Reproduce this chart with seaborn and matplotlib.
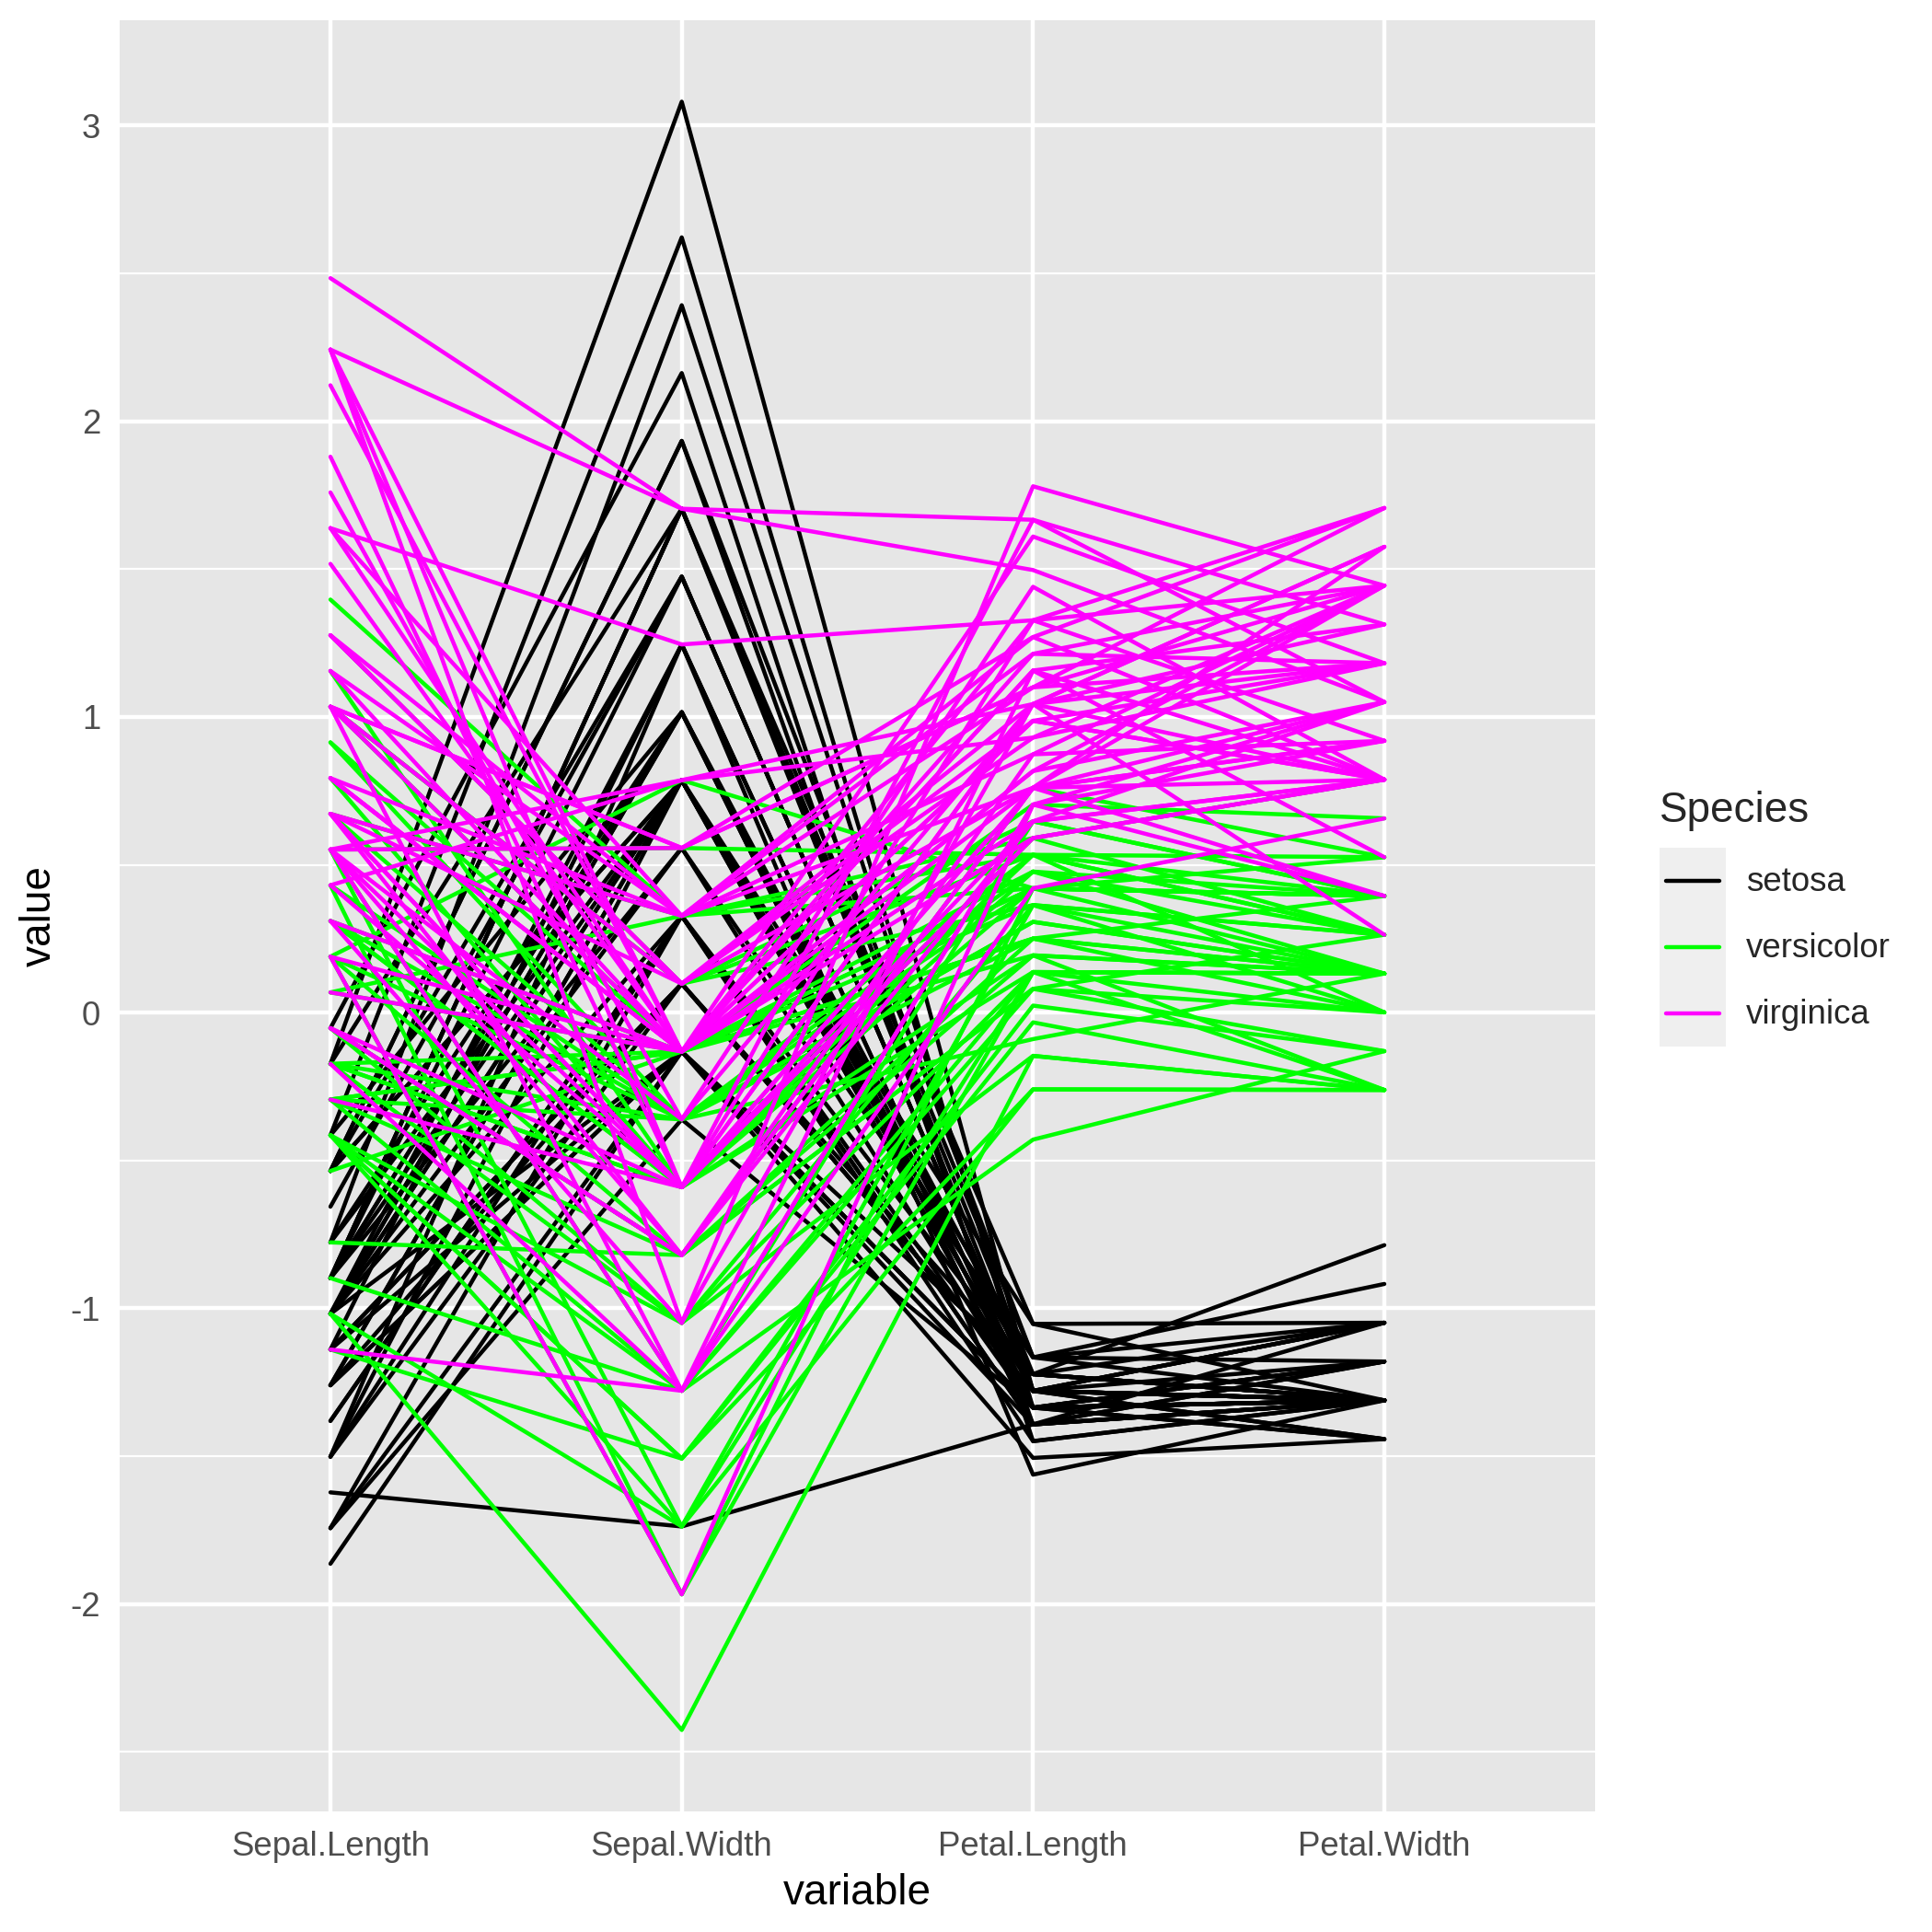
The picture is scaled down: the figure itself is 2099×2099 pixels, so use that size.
import pandas as pd
import seaborn as sns
import matplotlib.pyplot as plt
from matplotlib.legend_handler import HandlerBase
from matplotlib.lines import Line2D
from matplotlib.patches import Rectangle
from matplotlib.ticker import MultipleLocator

# iris measurements (rows 1-150), drawn standardised per variable
sepal_length = [
    5.1, 4.9, 4.7, 4.6, 5.0, 5.4, 4.6, 5.0, 4.4, 4.9,
    5.4, 4.8, 4.8, 4.3, 5.8, 5.7, 5.4, 5.1, 5.7, 5.1,
    5.4, 5.1, 4.6, 5.1, 4.8, 5.0, 5.0, 5.2, 5.2, 4.7,
    4.8, 5.4, 5.2, 5.5, 4.9, 5.0, 5.5, 4.9, 4.4, 5.1,
    5.0, 4.5, 4.4, 5.0, 5.1, 4.8, 5.1, 4.6, 5.3, 5.0,
    7.0, 6.4, 6.9, 5.5, 6.5, 5.7, 6.3, 4.9, 6.6, 5.2,
    5.0, 5.9, 6.0, 6.1, 5.6, 6.7, 5.6, 5.8, 6.2, 5.6,
    5.9, 6.1, 6.3, 6.1, 6.4, 6.6, 6.8, 6.7, 6.0, 5.7,
    5.5, 5.5, 5.8, 6.0, 5.4, 6.0, 6.7, 6.3, 5.6, 5.5,
    5.5, 6.1, 5.8, 5.0, 5.6, 5.7, 5.7, 6.2, 5.1, 5.7,
    6.3, 5.8, 7.1, 6.3, 6.5, 7.6, 4.9, 7.3, 6.7, 7.2,
    6.5, 6.4, 6.8, 5.7, 5.8, 6.4, 6.5, 7.7, 7.7, 6.0,
    6.9, 5.6, 7.7, 6.3, 6.7, 7.2, 6.2, 6.1, 6.4, 7.2,
    7.4, 7.9, 6.4, 6.3, 6.1, 7.7, 6.3, 6.4, 6.0, 6.9,
    6.7, 6.9, 5.8, 6.8, 6.7, 6.7, 6.3, 6.5, 6.2, 5.9,
]
sepal_width = [
    3.5, 3.0, 3.2, 3.1, 3.6, 3.9, 3.4, 3.4, 2.9, 3.1,
    3.7, 3.4, 3.0, 3.0, 4.0, 4.4, 3.9, 3.5, 3.8, 3.8,
    3.4, 3.7, 3.6, 3.3, 3.4, 3.0, 3.4, 3.5, 3.4, 3.2,
    3.1, 3.4, 4.1, 4.2, 3.1, 3.2, 3.5, 3.6, 3.0, 3.4,
    3.5, 2.3, 3.2, 3.5, 3.8, 3.0, 3.8, 3.2, 3.7, 3.3,
    3.2, 3.2, 3.1, 2.3, 2.8, 2.8, 3.3, 2.4, 2.9, 2.7,
    2.0, 3.0, 2.2, 2.9, 2.9, 3.1, 3.0, 2.7, 2.2, 2.5,
    3.2, 2.8, 2.5, 2.8, 2.9, 3.0, 2.8, 3.0, 2.9, 2.6,
    2.4, 2.4, 2.7, 2.7, 3.0, 3.4, 3.1, 2.3, 3.0, 2.5,
    2.6, 3.0, 2.6, 2.3, 2.7, 3.0, 2.9, 2.9, 2.5, 2.8,
    3.3, 2.7, 3.0, 2.9, 3.0, 3.0, 2.5, 2.9, 2.5, 3.6,
    3.2, 2.7, 3.0, 2.5, 2.8, 3.2, 3.0, 3.8, 2.6, 2.2,
    3.2, 2.8, 2.8, 2.7, 3.3, 3.2, 2.8, 3.0, 2.8, 3.0,
    2.8, 3.8, 2.8, 2.8, 2.6, 3.0, 3.4, 3.1, 3.0, 3.1,
    3.1, 3.1, 2.7, 3.2, 3.3, 3.0, 2.5, 3.0, 3.4, 3.0,
]
petal_length = [
    1.4, 1.4, 1.3, 1.5, 1.4, 1.7, 1.4, 1.5, 1.4, 1.5,
    1.5, 1.6, 1.4, 1.1, 1.2, 1.5, 1.3, 1.4, 1.7, 1.5,
    1.7, 1.5, 1.0, 1.7, 1.9, 1.6, 1.6, 1.5, 1.4, 1.6,
    1.6, 1.5, 1.5, 1.4, 1.5, 1.2, 1.3, 1.4, 1.3, 1.5,
    1.3, 1.3, 1.3, 1.6, 1.9, 1.4, 1.6, 1.4, 1.5, 1.4,
    4.7, 4.5, 4.9, 4.0, 4.6, 4.5, 4.7, 3.3, 4.6, 3.9,
    3.5, 4.2, 4.0, 4.7, 3.6, 4.4, 4.5, 4.1, 4.5, 3.9,
    4.8, 4.0, 4.9, 4.7, 4.3, 4.4, 4.8, 5.0, 4.5, 3.5,
    3.8, 3.7, 3.9, 5.1, 4.5, 4.5, 4.7, 4.4, 4.1, 4.0,
    4.4, 4.6, 4.0, 3.3, 4.2, 4.2, 4.2, 4.3, 3.0, 4.1,
    6.0, 5.1, 5.9, 5.6, 5.8, 6.6, 4.5, 6.3, 5.8, 6.1,
    5.1, 5.3, 5.5, 5.0, 5.1, 5.3, 5.5, 6.7, 6.9, 5.0,
    5.7, 4.9, 6.7, 4.9, 5.7, 6.0, 4.8, 4.9, 5.6, 5.8,
    6.1, 6.4, 5.6, 5.1, 5.6, 6.1, 5.6, 5.5, 4.8, 5.4,
    5.6, 5.1, 5.1, 5.9, 5.7, 5.2, 5.0, 5.2, 5.4, 5.1,
]
petal_width = [
    0.2, 0.2, 0.2, 0.2, 0.2, 0.4, 0.3, 0.2, 0.2, 0.1,
    0.2, 0.2, 0.1, 0.1, 0.2, 0.4, 0.4, 0.3, 0.3, 0.3,
    0.2, 0.4, 0.2, 0.5, 0.2, 0.2, 0.4, 0.2, 0.2, 0.2,
    0.2, 0.4, 0.1, 0.2, 0.2, 0.2, 0.2, 0.1, 0.2, 0.2,
    0.3, 0.3, 0.2, 0.6, 0.4, 0.3, 0.2, 0.2, 0.2, 0.2,
    1.4, 1.5, 1.5, 1.3, 1.5, 1.3, 1.6, 1.0, 1.3, 1.4,
    1.0, 1.5, 1.0, 1.4, 1.3, 1.4, 1.5, 1.0, 1.5, 1.1,
    1.8, 1.3, 1.5, 1.2, 1.3, 1.4, 1.4, 1.7, 1.5, 1.0,
    1.1, 1.0, 1.2, 1.6, 1.5, 1.6, 1.5, 1.3, 1.3, 1.3,
    1.2, 1.4, 1.2, 1.0, 1.3, 1.2, 1.3, 1.3, 1.1, 1.3,
    2.5, 1.9, 2.1, 1.8, 2.2, 2.1, 1.7, 1.8, 1.8, 2.5,
    2.0, 1.9, 2.1, 2.0, 2.4, 2.3, 1.8, 2.2, 2.3, 1.5,
    2.3, 2.0, 2.0, 1.8, 2.1, 1.8, 1.8, 1.8, 2.1, 1.6,
    1.9, 2.0, 2.2, 1.5, 1.4, 2.3, 2.4, 1.8, 1.8, 2.1,
    2.4, 2.3, 1.9, 2.3, 2.5, 2.3, 1.9, 2.0, 2.3, 1.8,
]
species = ['setosa'] * 50 + ['versicolor'] * 50 + ['virginica'] * 50

variables = ['Sepal.Length', 'Sepal.Width', 'Petal.Length', 'Petal.Width']
species_colors = {'setosa': '#000000', 'versicolor': '#00FF00', 'virginica': '#FF00FF'}


class KeyHandler(HandlerBase):
    # ggplot-like legend key: light grey square with a line across it
    def create_artists(self, legend, orig_handle, xdescent, ydescent,
                       width, height, fontsize, trans):
        bg = Rectangle((-xdescent, -ydescent), width, height,
                       facecolor='#EFEFEF', edgecolor='none', transform=trans)
        inset = 0.1 * width
        y = -ydescent + height / 2
        line = Line2D([-xdescent + inset, -xdescent + width - inset], [y, y],
                      color=orig_handle.get_color(),
                      linewidth=orig_handle.get_linewidth(), transform=trans)
        return [bg, line]


df = pd.DataFrame({
    'Sepal.Length': sepal_length,
    'Sepal.Width': sepal_width,
    'Petal.Length': petal_length,
    'Petal.Width': petal_width,
})
scaled = (df - df.mean()) / df.std()
scaled['Species'] = species
scaled['id'] = range(len(scaled))
long = scaled.melt(id_vars=['id', 'Species'], value_vars=variables,
                   var_name='variable', value_name='value')
long['variable'] = pd.Categorical(long['variable'], categories=variables, ordered=True)

sns.set_style('darkgrid', {'axes.facecolor': '#E6E6E6', 'grid.color': 'white'})
plt.rcParams['font.family'] = ['Liberation Sans', 'DejaVu Sans']
plt.rcParams['axes.unicode_minus'] = False

fig, ax = plt.subplots(figsize=(2099 / 300, 2099 / 300), dpi=300)
fig.subplots_adjust(left=130 / 2099, right=1733 / 2099,
                    bottom=1 - 1968 / 2099, top=1 - 22 / 2099)

sns.lineplot(data=long, x='variable', y='value', hue='Species', units='id',
             estimator=None, palette=species_colors, linewidth=1.07,
             legend=False, ax=ax)

lo, hi = long['value'].min(), long['value'].max()
pad = 0.05 * (hi - lo)
ax.set_ylim(lo - pad, hi + pad)
ax.set_xlim(-0.6, len(variables) - 1 + 0.6)
ax.set_xticks(range(len(variables)))
ax.set_xticklabels(variables)

ax.yaxis.set_major_locator(MultipleLocator(1))
ax.yaxis.set_minor_locator(MultipleLocator(0.5))
ax.grid(which='major', color='white', linewidth=1.07)
ax.grid(which='minor', axis='y', color='white', linewidth=0.53)
ax.set_axisbelow(True)
for s in ax.spines.values():
    s.set_visible(False)

ax.tick_params(which='major', length=2.75, width=1.07, color='#333333',
               labelcolor='#4D4D4D', labelsize=8.8, pad=2.2)
ax.tick_params(which='minor', length=0)

ax.set_xlabel('variable', fontsize=11, color='black', labelpad=2.75)
ax.set_ylabel('value', fontsize=11, color='black', labelpad=2.75)

handles = [Line2D([], [], color=c, linewidth=1.07) for c in species_colors.values()]
leg = fig.legend(handles, list(species_colors.keys()), title='Species',
                 loc='center left', bbox_to_anchor=(1803 / 2099, 1 - 998 / 2099),
                 frameon=False, fontsize=8.8, title_fontsize=11,
                 handlelength=1.9636, handleheight=2.644, handletextpad=0.6,
                 labelspacing=0, borderpad=0, borderaxespad=0,
                 alignment='left', handler_map={Line2D: KeyHandler()})
leg._legend_box.sep = 4.5

plt.savefig('out.png', dpi=300)
